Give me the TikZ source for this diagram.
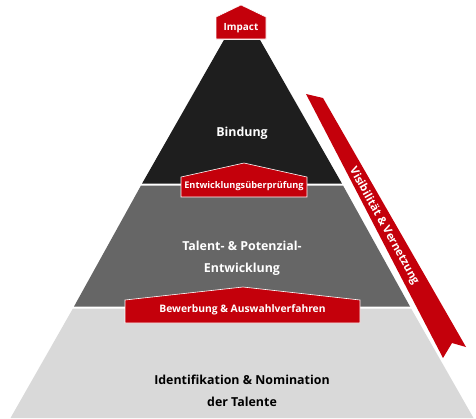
\documentclass[tikz,border=0pt]{standalone}
\usepackage{fontspec}
\setmainfont{Open Sans}
\definecolor{tierblack}{HTML}{1E1E1E}
\definecolor{tiergray}{HTML}{666666}
\definecolor{tierlight}{HTML}{D9D9D9}
\definecolor{tagred}{HTML}{C4000B}
\begin{document}
\begin{tikzpicture}[x=1pt,y=-1pt,
  tag/.style={fill=tagred, draw=white, line width=0.6pt, line join=miter},
  tagtext/.style={text=white, inner sep=0pt, anchor=base},
  tiertext/.style={font=\bfseries\fontsize{12.4}{22}\selectfont, align=center, inner sep=0pt}]
\useasboundingbox (0,0) rectangle (476,418);
% pyramid tiers
\fill[tierblack] (223.9,40) -- (260.1,40) -- (341.9,183.5) -- (142.1,183.5) -- cycle;
\fill[tiergray] (141,185.5) -- (343,185.5) -- (410,306.5) -- (74,306.5) -- cycle;
\fill[tierlight] (72.9,308.5) -- (411.1,308.5) -- (473.5,418) -- (10.5,418) -- cycle;
% ribbon along the right flank
\fill[tagred] (306,94) -- (323,98) -- (466,347) -- (452,343) -- (443,358) -- cycle;
\node[text=white, font=\bfseries\fontsize{11.2}{13}\selectfont, rotate=-61, inner sep=0pt] (visib) at (384,226) {Visibilität \& Vernetzung};
% red tags
\draw[tag] (216,39) -- (216,17) -- (241,5) -- (266,17) -- (266,39) -- cycle;
\node[tagtext, font=\bfseries\fontsize{9.9}{11}\selectfont] (impact) at (241,30) {Impact};
\draw[tag] (181,197) -- (181,177) -- (244,163) -- (307,177) -- (307,197) -- cycle;
\node[tagtext, font=\bfseries\fontsize{9.2}{11}\selectfont] (review) at (244,188) {Entwicklungsüberprüfung};
\draw[tag] (125,323) -- (125,300) -- (243,287) -- (360,300) -- (360,323) -- cycle;
\node[tagtext, font=\bfseries\fontsize{10.3}{12}\selectfont] (select) at (242.5,312) {Bewerbung \& Auswahlverfahren};
% tier captions
\node[tiertext, text=white, anchor=base] (bindung) at (242,136.7) {Bindung};
\node[tiertext, text=white] (talent) at (242,258) {Talent- \& Potenzial-\\Entwicklung};
\node[tiertext, text=black] (ident) at (242,391) {Identifikation \& Nomination\\der Talente};
\end{tikzpicture}
\end{document}
